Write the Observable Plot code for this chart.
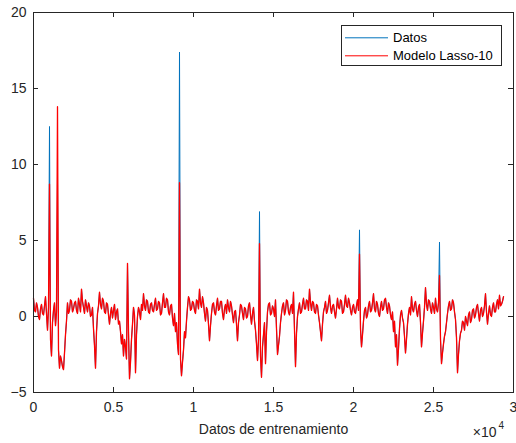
<!DOCTYPE html>
<html><head><meta charset="utf-8">
<script src="https://cdn.jsdelivr.net/npm/d3@7"></script>
<script src="https://cdn.jsdelivr.net/npm/@observablehq/plot@0.6"></script>
<style>body{margin:0;background:#fff}</style>
</head><body><div id="chart"></div>
<script>
// sample spacing (index units) of the values
const step = 62.5;
// "Datos" series, one value every 62.5 samples from 0 to 29375
const datos = [
  1.2,0.4,0.3,0.9,0.6,0.0,-0.2,0.5,0.8,0.2,0.1,0.7,1.3,0.2,-0.9,0.6,12.5,-1.5,-2.6,-0.4,
  0.4,0.9,-0.6,0.3,9.2,-2.2,-3.4,-2.6,-2.9,-3.3,-3.5,-2.4,-1.2,-0.3,0.9,0.2,0.4,1.1,1.0,0.3,
  0.5,0.9,1.0,0.4,0.2,1.2,0.8,0.3,1.8,1.0,0.6,0.2,1.1,0.7,0.3,0.9,0.7,0.0,0.1,0.6,
  -0.8,-1.9,-3.4,-1.0,0.2,0.7,1.6,0.8,0.5,1.2,1.0,0.3,0.2,0.9,0.8,0.1,-0.5,0.2,0.6,-0.1,
  0.4,0.8,-0.2,0.3,0.5,-0.5,-0.3,-1.0,-1.8,-1.2,-2.6,-1.5,-2.0,-2.8,3.5,-1.0,-4.1,-3.0,-1.5,-0.5,
  0.6,0.1,-3.7,-1.2,0.0,0.6,0.3,-0.2,0.8,0.4,1.5,0.7,0.4,1.1,1.0,0.3,0.2,0.8,0.9,0.4,
  0.3,0.8,1.2,0.4,0.5,1.0,0.9,0.1,0.2,0.9,1.5,0.6,0.6,1.2,1.1,0.3,0.1,0.7,0.8,-0.1,
  -0.6,0.2,-1.0,-0.4,-1.8,-2.5,17.4,-2.8,-3.9,-3.0,-2.2,-1.0,-1.4,-0.3,0.6,1.3,1.1,0.4,0.5,1.0,
  0.9,0.4,0.2,1.1,1.0,0.5,1.8,0.9,0.6,1.3,0.9,0.2,-0.3,0.6,0.4,-0.5,-1.6,-0.6,0.2,0.8,
  0.9,0.3,0.1,0.7,1.2,0.4,0.5,1.0,1.0,0.2,-0.2,0.5,0.8,0.2,1.1,0.6,0.3,1.0,0.7,0.1,
  -0.4,0.3,0.4,-0.5,-1.6,-0.4,0.1,0.8,0.7,0.2,-0.2,0.6,0.5,-0.1,0.0,0.7,0.9,0.1,-0.5,0.2,
  0.6,-0.3,-0.9,-1.8,-2.9,-1.5,6.9,-2.6,-4.0,-2.0,-1.2,-0.4,-3.1,-1.0,0.3,0.8,0.9,0.1,0.2,0.7,
  0.5,0.0,1.1,-0.8,-2.5,-1.9,-1.3,-0.4,0.2,0.7,0.9,0.1,0.4,1.1,1.0,0.3,0.1,0.6,0.8,0.2,
  1.6,-0.9,-3.3,-1.1,0.0,0.5,0.9,0.2,0.3,0.8,1.2,0.5,0.5,1.1,1.0,0.4,1.8,0.9,0.4,1.0,
  0.9,0.3,0.2,0.8,0.7,0.1,-0.4,-1.0,-1.6,-0.5,0.3,0.6,1.0,0.2,0.4,0.9,1.4,0.6,0.2,0.7,
  0.8,0.3,-0.1,0.5,1.2,0.6,0.5,1.1,1.0,0.2,0.3,0.8,1.4,0.7,0.6,1.2,0.9,0.4,0.1,0.6,
  0.8,0.3,0.2,0.7,1.1,0.4,5.7,-0.8,-2.0,-1.2,-0.3,0.4,0.6,-0.1,0.1,0.7,1.0,0.3,0.4,0.9,
  1.5,0.5,0.3,1.0,0.8,0.2,0.0,0.6,1.0,0.4,0.5,1.1,1.2,0.6,0.2,0.9,0.7,0.1,-0.2,0.3,
  -1.0,-0.3,-2.0,-1.2,-3.2,-2.1,-0.8,0.1,0.4,-0.1,-0.4,-1.3,-2.4,-1.5,-0.5,0.2,0.6,0.1,1.3,0.5,
  0.3,0.8,1.0,0.4,0.0,0.6,0.8,-0.4,-2.0,-1.1,-0.3,0.6,1.9,0.8,0.4,1.1,1.0,0.5,0.2,0.9,
  0.6,0.2,1.2,0.5,0.3,0.9,4.9,-1.5,-3.1,-2.4,-1.8,-1.3,-1.0,-0.4,0.2,0.7,1.0,0.4,0.5,1.1,
  0.9,0.3,-0.2,-1.4,-3.7,-2.5,-1.6,-1.1,-0.9,-0.3,-0.4,-0.9,0.0,-0.3,-0.6,0.1,0.3,-0.4,-0.2,0.4,
  0.5,-0.1,0.1,0.6,0.8,0.2,-0.3,0.4,0.6,0.0,0.2,0.7,1.5,0.3,-0.5,0.2,0.7,0.1,0.0,0.6,
  0.9,0.3,0.3,0.8,1.1,0.5,1.4,0.7,0.8,1.0,1.3
];
// "Modelo Lasso-10" follows the data except at the spikes, where it reads differently
const modeloSpikeX = [1000, 1500, 9125, 14125, 20375, 25375];
const modeloSpikeY = [8.7, 13.8, 8.8, 4.8, 4.1, 2.7];

const xTicks = [0, 5000, 10000, 15000, 20000, 25000, 30000];
const yTicks = [-5, 0, 5, 10, 15, 20];
const seriesNames = ["Datos", "Modelo Lasso-10"];
const seriesColors = ["#0072BD", "#FF0000"];
const xLabel = "Datos de entrenamiento";

const spikeMap = new Map(modeloSpikeX.map((x, i) => [x, modeloSpikeY[i]]));
const rows = datos.map((v, i) => ({x: i * step, datos: v, modelo: spikeMap.has(i * step) ? spikeMap.get(i * step) : v}));

const ink = "#262626";
const chart = Plot.plot({
  width: 516, height: 443,
  marginLeft: 33, marginRight: 3, marginTop: 12, marginBottom: 51,
  x: {domain: [0, 30000]},
  y: {domain: [-5, 20]},
  style: {fontFamily: "'Liberation Sans', Arial, sans-serif", fontSize: "14px", color: ink, background: "#fff", overflow: "visible"},
  marks: [
    Plot.lineY(rows, {x: "x", y: "datos", stroke: seriesColors[0], strokeWidth: 1}),
    Plot.lineY(rows, {x: "x", y: "modelo", stroke: seriesColors[1], strokeWidth: 1.3}),
    Plot.frame({stroke: ink}),
    Plot.tickX(xTicks, {x: d => d, insetTop: 375, stroke: ink}),
    Plot.tickX(xTicks, {x: d => d, insetBottom: 375, stroke: ink}),
    Plot.tickY(yTicks, {y: d => d, insetRight: 475, stroke: ink}),
    Plot.tickY(yTicks, {y: d => d, insetLeft: 475, stroke: ink}),
    Plot.axisX(xTicks, {tickSize: 0, tickPadding: 10, tickFormat: d => String(d / 1e4), label: null, fontSize: 14}),
    Plot.axisY(yTicks, {tickSize: 0, tickPadding: 7, label: null, fontSize: 14}),
    Plot.text([xLabel], {frameAnchor: "bottom", dy: 41, fontSize: 14, fill: ink}),
    Plot.text(["×10"], {frameAnchor: "bottom-right", dx: -17, dy: 44, textAnchor: "end", fontSize: 14, fill: ink}),
    Plot.text(["4"], {frameAnchor: "bottom-right", dx: -15, dy: 36, textAnchor: "start", fontSize: 10, fill: ink})
  ]
});
document.getElementById("chart").appendChild(chart);

// legend box (MATLAB style, inside the axes, top right)
const svg = d3.select(chart);
const lg = svg.append("g").attr("font-family", "'Liberation Sans', Arial, sans-serif").attr("font-size", 13).attr("fill", "#000").attr("text-anchor", "start");
lg.append("rect").attr("x", 341.5).attr("y", 25.5).attr("width", 160).attr("height", 40).attr("fill", "#fff").attr("stroke", ink);
seriesNames.forEach((name, i) => {
  const y = 37.8 + i * 18;
  lg.append("line").attr("x1", 345).attr("x2", 388).attr("y1", y).attr("y2", y).attr("stroke", seriesColors[i]).attr("stroke-width", 1);
  lg.append("text").attr("x", 393).attr("y", y).attr("dy", "0.35em").attr("text-anchor", "start").text(name);
});
</script>
</body></html>
